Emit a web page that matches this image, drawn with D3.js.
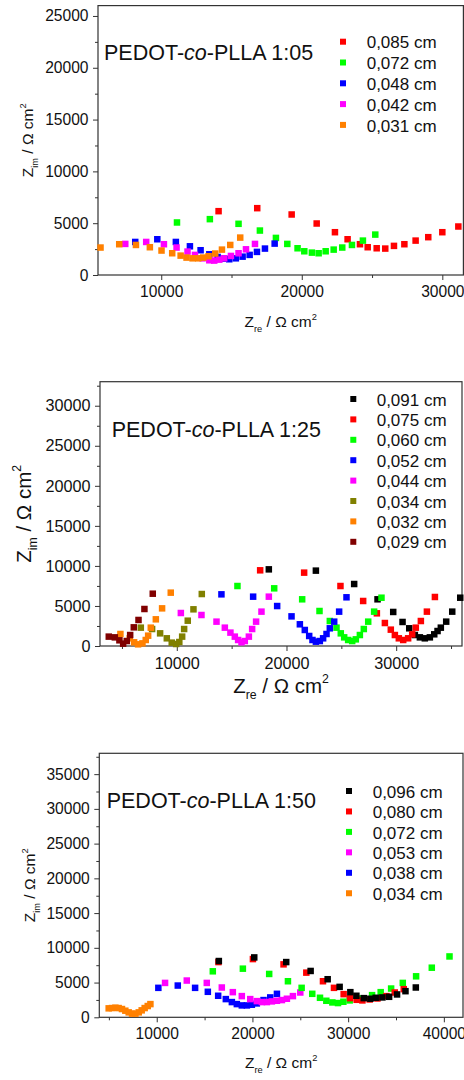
<!DOCTYPE html>
<html>
<head>
<meta charset="utf-8">
<script src="https://cdn.jsdelivr.net/npm/d3@7"></script>
<style>
body { margin: 0; background: #fff; }
text { font-family: Arial, "Liberation Sans", sans-serif; fill: #111; }
</style>
</head>
<body>
<div id="chart-area"></div>
<script>
/*
*    three Nyquist plots, PEDOT-co-PLLA
*/

// ---- panel 1 : 1:05 ----
var p1_labels = ["0,085 cm", "0,072 cm", "0,048 cm", "0,042 cm", "0,031 cm"];
var p1_colors = ["#ff0000", "#00ff00", "#0000ff", "#ff00ff", "#ff8000"];
var p1_xticks = [10000, 20000, 30000];
var p1_yticks = [0, 5000, 10000, 15000, 20000, 25000];

var p1_085 = [[14080,6160],[16830,6450],[19280,5840],[21060,4970],[22360,4130],[23260,3450],[24140,2970],[24690,2680],[25330,2580],[25940,2550],[26560,2810],[27300,2970],[28100,3320],[29000,3650],[30000,4130],[31140,4680]];
var p1_072 = [[11120,5070],[13460,5390],[15500,4940],[17020,4290],[18160,3580],[18970,3000],[19700,2580],[20180,2290],[20720,2160],[21200,2100],[21700,2290],[22270,2450],[22880,2650],[23570,2900],[24350,3320],[25230,3900]];
var p1_048 = [[8150,3190],[9720,3450],[11040,3190],[12040,2770],[12800,2390],[13420,2000],[14010,1740],[14480,1580],[14840,1520],[15310,1610],[15790,1770],[16290,1940],[16810,2230],[17380,2550],[18070,3030]];
var p1_042 = [[7440,3000],[8930,3190],[10190,2970],[11090,2650],[11870,2260],[12400,1940],[12940,1610],[13420,1420],[13770,1390],[14130,1480],[14480,1610],[14960,1840],[15500,2100],[16030,2480],[16670,3000]];
var p1_031 = [[5680,2650],[7010,2970],[8200,2900],[9190,2680],[10020,2360],[10780,2100],[11380,1870],[11800,1680],[12230,1610],[12630,1610],[12990,1680],[13370,1810],[13840,2070],[14320,2450],[14910,2900],[15620,3610]];

// ---- panel 2 : 1:25 ----
var p2_labels = ["0,091 cm", "0,075 cm", "0,060 cm", "0,052 cm", "0,044 cm", "0,034 cm", "0,032 cm", "0,029 cm"];
var p2_colors = ["#000000", "#ff0000", "#00ff00", "#0000ff", "#ff00ff", "#808000", "#ff8000", "#800000"];
var p2_xticks = [10000, 20000, 30000];
var p2_yticks = [0, 5000, 10000, 15000, 20000, 25000, 30000];

var p2_091 = [[18390,9570],[22680,9410],[26170,7740],[28300,5830],[29730,4250],[30580,3000],[31190,2210],[31700,1370],[32160,1080],[32610,960],[33070,1080],[33470,1460],[33770,1870],[34070,2290],[34560,3040],[35110,4290],[35840,6030]];
var p2_075 = [[17600,9450],[21610,9160],[24920,7490],[26990,5620],[28240,4080],[28970,2870],[29510,2040],[29880,1370],[30240,960],[30640,750],[31090,960],[31460,1460],[31790,2290],[32250,3120],[32800,4290],[33530,6120]];
var p2_060 = [[15530,7490],[18880,7200],[21430,5830],[23010,4370],[23950,3120],[24560,2290],[24950,1580],[25260,1080],[25620,750],[25990,620],[26320,830],[26690,1370],[27050,2120],[27450,3040],[27990,4290],[28660,6030]];
var p2_052 = [[14070,6450],[16960,6160],[19150,4990],[20460,3700],[21220,2710],[21670,2000],[22070,1250],[22370,750],[22680,540],[23040,620],[23340,960],[23650,1500],[23950,2210],[24350,3040],[24800,4290],[25470,6080]];
var p2_044 = [[10370,4120],[12250,3870],[13620,3040],[14380,2290],[14890,1670],[15290,1170],[15590,750],[15900,460],[16200,620],[16570,1170],[16870,2120],[17230,3040],[17720,4290],[18390,6160]];
var p2_034 = [[6720,2290],[7750,2120],[8480,1580],[9090,960],[9540,420],[9940,250],[10230,500],[10490,1170],[10670,2120],[11000,3160],[11520,4580],[12280,6490]];
var p2_032 = [[4860,1500],[5710,960],[6110,460],[6470,210],[6870,330],[7170,750],[7390,1290],[7630,2290],[8090,3330],[8660,4700],[9450,6660]];
var p2_029 = [[3800,1170],[4350,1080],[4770,710],[5110,290],[5440,620],[5750,1370],[6080,2330],[6510,3250],[7050,4620],[7810,6530]];

// ---- panel 3 : 1:50 ----
var p3_labels = ["0,096 cm", "0,080 cm", "0,072 cm", "0,053 cm", "0,038 cm", "0,034 cm"];
var p3_colors = ["#000000", "#ff0000", "#00ff00", "#ff00ff", "#0000ff", "#ff8000"];
var p3_xticks = [10000, 20000, 30000, 40000];
var p3_yticks = [0, 5000, 10000, 15000, 20000, 25000, 30000, 35000];

var p3_096 = [[16490,8100],[20190,8620],[23530,7950],[26080,6670],[27860,5480],[29110,4380],[30230,3620],[30860,3100],[31630,2760],[32320,2670],[32880,2810],[33580,2860],[34280,2950],[35110,3290],[35990,3760],[37070,4290]];
var p3_080 = [[16450,7950],[20050,8380],[23250,7620],[25630,6430],[27370,5190],[28520,4240],[29530,3330],[30200,2760],[30890,2520],[31490,2430],[32250,2570],[33060,2710],[34000,3050],[34870,3570],[35810,4050]];
var p3_072 = [[15860,6620],[19000,7000],[21750,6240],[23710,5190],[25140,4240],[26250,3380],[27060,2810],[27720,2380],[28350,2140],[28940,2050],[29500,2240],[30160,2430],[31070,2710],[32500,3190],[33400,3620],[34490,4140],[35710,4950],[37100,5900],[38740,7140],[40590,8760]];
var p3_053 = [[10870,4950],[13140,5290],[15230,4950],[16800,4290],[17950,3620],[18890,3050],[19770,2620],[20460,2330],[20990,2190],[21510,2190],[22030,2290],[22560,2380],[23080,2480],[23600,2670],[24230,3050],[25000,3570]];
var p3_038 = [[10170,4240],[12200,4570],[14010,4240],[15340,3670],[16420,3100],[17220,2620],[17850,2190],[18370,1900],[18890,1710],[19420,1710],[19940,1810],[20460,2000],[21160,2480],[21860,2860],[22560,3380]];
var p3_034 = [[4980,1290],[5330,1330],[5680,1380],[6020,1330],[6370,1190],[6720,950],[7070,710],[7420,520],[7770,520],[8120,710],[8430,1000],[8740,1330],[9060,1620],[9340,1900]];

var W = 464, H = 1080;

var svg = d3.select("#chart-area").append("svg")
    .attr("width", W)
    .attr("height", H);

// layout of each panel (pixels), series in legend order, draw = z order
var panels = [
    { left: 98, right: 463.4, top: 5.6, bottom: 275,
      xDomain: [5500, 31500], yDomain: [0, 26000],
      xticks: p1_xticks, yticks: p1_yticks,
      series: [p1_085, p1_072, p1_048, p1_042, p1_031],
      labels: p1_labels, colors: p1_colors, draw: [0, 1, 2, 3, 4],
      name: "1:05", titleX: 104, titleY: 60,
      legX: 343, legY: 41.7, legStep: 20.8, legTextX: 366.7,
      tickFont: 15.6, axisFont: 15.5, xTitleY: 327, yTitleX: 33.3 },
    { left: 100, right: 462, top: 381.7, bottom: 646,
      xDomain: [3000, 36000], yDomain: [0, 33000],
      xticks: p2_xticks, yticks: p2_yticks,
      series: [p2_091, p2_075, p2_060, p2_052, p2_044, p2_034, p2_032, p2_029],
      labels: p2_labels, colors: p2_colors, draw: [0, 1, 2, 3, 4, 5, 6, 7],
      name: "1:25", titleX: 111.7, titleY: 436.7,
      legX: 353.3, legY: 399, legStep: 20.4, legTextX: 376.7,
      tickFont: 16.2, axisFont: 20.5, xTitleY: 692.7, yTitleX: 30.7 },
    { left: 99.3, right: 463, top: 753.3, bottom: 1017.3,
      xDomain: [4000, 42000], yDomain: [0, 38000],
      xticks: p3_xticks, yticks: p3_yticks,
      series: [p3_096, p3_080, p3_072, p3_053, p3_038, p3_034],
      labels: p3_labels, colors: p3_colors, draw: [5, 4, 3, 2, 1, 0],
      name: "1:50", titleX: 106.7, titleY: 807.7,
      legX: 349, legY: 791, legStep: 20.45, legTextX: 372.7,
      tickFont: 15.6, axisFont: 15.5, xTitleY: 1068.3, yTitleX: 35 }
];

panels.forEach(drawPanel);

function drawPanel(p) {
    var x = d3.scaleLinear().domain(p.xDomain).range([p.left, p.right]);
    var y = d3.scaleLinear().domain(p.yDomain).range([p.bottom, p.top]);

    var g = svg.append("g");

    // minor ticks halfway between the labelled ones
    var xMinor = d3.range(5000, p.xDomain[1], 10000).filter((v) => { return v > p.xDomain[0]; });
    var yMinor = d3.range(2500, p.yDomain[1], 5000);

    var xMin = g.append("g")
        .attr("transform", "translate(0, " + p.bottom + ")")
        .call(d3.axisBottom(x).tickValues(xMinor).tickSize(3).tickSizeOuter(0).tickFormat(""));
    var yMin = g.append("g")
        .attr("transform", "translate(" + p.left + ", 0)")
        .call(d3.axisLeft(y).tickValues(yMinor).tickSize(3).tickSizeOuter(0).tickFormat(""));

    var xAx = g.append("g")
        .attr("transform", "translate(0, " + p.bottom + ")")
        .call(d3.axisBottom(x).tickValues(p.xticks).tickSize(5).tickSizeOuter(0).tickPadding(6).tickFormat(d3.format("d")));
    var yAx = g.append("g")
        .attr("transform", "translate(" + p.left + ", 0)")
        .call(d3.axisLeft(y).tickValues(p.yticks).tickSize(5).tickSizeOuter(0).tickPadding(4.5).tickFormat(d3.format("d")));

    [xMin, yMin, xAx, yAx].forEach((a) => {
        a.selectAll("path").remove();
        a.selectAll("line").attr("stroke", "#333").attr("stroke-width", 1);
        a.selectAll("text")
            .attr("font-size", p.tickFont + "px")
            .attr("font-family", "Arial, 'Liberation Sans', sans-serif")
            .attr("fill", "#111");
    });

    // frame
    g.append("rect")
        .attr("x", p.left)
        .attr("y", p.top)
        .attr("width", p.right - p.left)
        .attr("height", p.bottom - p.top)
        .attr("fill", "none")
        .attr("stroke", "#333")
        .attr("stroke-width", 1.2);

    // markers
    var s = 6.5;
    p.draw.forEach((i) => {
        g.append("g").selectAll("rect")
            .data(p.series[i])
            .enter().append("rect")
            .attr("x", (d) => { return x(d[0]) - s / 2; })
            .attr("y", (d) => { return y(d[1]) - s / 2; })
            .attr("width", s)
            .attr("height", s)
            .attr("fill", p.colors[i]);
    });

    // title
    var t = g.append("text")
        .attr("x", p.titleX)
        .attr("y", p.titleY)
        .attr("font-size", "21.5px");
    t.append("tspan").text("PEDOT-");
    t.append("tspan").attr("font-style", "italic").text("co");
    t.append("tspan").text("-PLLA " + p.name);

    // legend
    var leg = g.selectAll(".leg")
        .data(p.labels)
        .enter().append("g")
        .attr("class", "leg")
        .attr("transform", (d, i) => { return "translate(0, " + (p.legY + i * p.legStep) + ")"; });
    leg.append("rect")
        .attr("x", p.legX - 3)
        .attr("y", -3)
        .attr("width", 6)
        .attr("height", 6)
        .attr("fill", (d, i) => { return p.colors[i]; });
    leg.append("text")
        .attr("x", p.legTextX)
        .attr("y", 6.6)
        .attr("font-size", "17px")
        .text((d) => { return d; });

    // axis titles
    var f = p.axisFont;
    var xt = g.append("text")
        .attr("x", (p.left + p.right) / 2)
        .attr("y", p.xTitleY)
        .attr("text-anchor", "middle")
        .attr("font-size", f + "px");
    addTitle(xt, "re", f);

    var yt = g.append("text")
        .attr("transform", "translate(" + p.yTitleX + ", " + ((p.top + p.bottom) / 2) + ") rotate(-90)")
        .attr("text-anchor", "middle")
        .attr("font-size", f + "px");
    addTitle(yt, "im", f);
}

function addTitle(el, sub, f) {
    el.append("tspan").text("Z");
    el.append("tspan").attr("font-size", (f * 0.6) + "px").attr("dy", f * 0.3).text(sub);
    el.append("tspan").attr("dy", -f * 0.3).text(" / \u03A9 cm");
    el.append("tspan").attr("font-size", (f * 0.6) + "px").attr("dy", -f * 0.45).text("2");
}
</script>
</body>
</html>
